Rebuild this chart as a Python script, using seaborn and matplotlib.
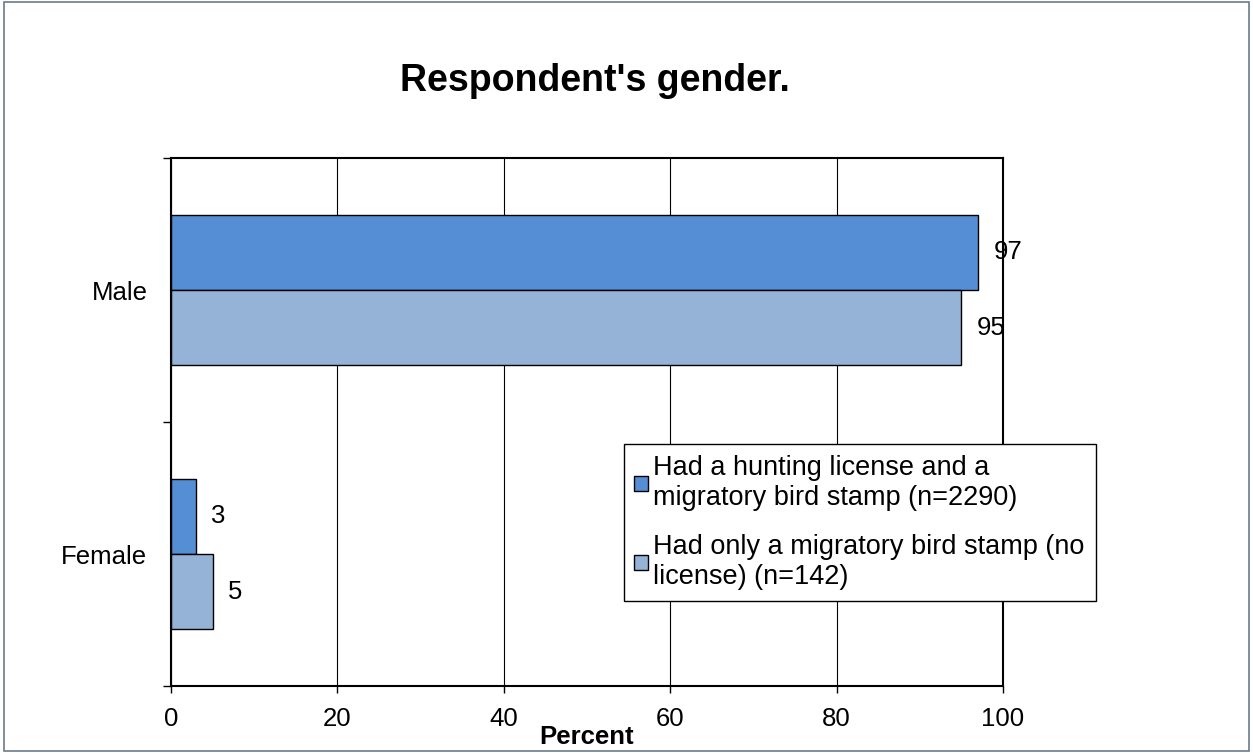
import seaborn as sns
import pandas as pd
import matplotlib.pyplot as plt
from matplotlib.patches import Rectangle

genders = ["Male", "Female"]
groups = ["Had a hunting license and a\nmigratory bird stamp (n=2290)",
          "Had only a migratory bird stamp (no\nlicense) (n=142)"]
licensed = [97, 3]
stamp_only = [95, 5]

df = pd.DataFrame({
    "gender": genders * 2,
    "group": [groups[0]] * 2 + [groups[1]] * 2,
    "pct": licensed + stamp_only,
})

sns.set_style("white")
plt.rcParams["font.family"] = ["Liberation Sans", "DejaVu Sans"]
plt.rcParams["text.color"] = "black"
plt.rcParams["axes.labelcolor"] = "black"
plt.rcParams["xtick.color"] = "black"
plt.rcParams["ytick.color"] = "black"

fs = 18.5

fig = plt.figure(figsize=(12.53, 7.53), dpi=100)
ax = fig.add_axes([0.1365, 0.089, 0.664, 0.701])

sns.barplot(data=df, y="gender", x="pct", hue="group", orient="h",
            palette=["#558ED5", "#95B3D7"], saturation=1,
            edgecolor="black", linewidth=1, width=0.57, ax=ax)

for c in ax.containers:
    ax.bar_label(c, padding=11, fontsize=fs)

ax.set_xlim(0, 100)
ax.set_ylim(1.5, -0.5)
ax.set_xticks([0, 20, 40, 60, 80, 100])
ax.tick_params(axis="x", labelsize=fs, direction="out", length=5, width=1, bottom=True, pad=10)
ax.set_yticks([0, 1])
ax.set_yticklabels(genders, fontsize=fs)
ax.tick_params(axis="y", which="major", length=0, pad=17)
ax.set_yticks([-0.5, 0.5, 1.5], minor=True)
ax.tick_params(axis="y", which="minor", length=6, width=1, left=True, direction="out")
ax.grid(axis="x", color="black", linewidth=0.8)
ax.set_axisbelow(True)
ax.set_xlabel("Percent", fontsize=fs, fontweight="bold", labelpad=-4)
ax.set_ylabel("")
for s in ax.spines.values():
    s.set_color("black")
    s.set_linewidth(1.5)

leg = ax.legend(loc="lower left", bbox_to_anchor=(0.544, 0.161), fontsize=19.5,
                frameon=True, fancybox=False, edgecolor="black", framealpha=1,
                handlelength=0.5, handleheight=0.5, handletextpad=0.2,
                borderpad=0.4, labelspacing=0.85, borderaxespad=0)
leg.get_frame().set_linewidth(1)

fig.text(0.475, 0.893, "Respondent's gender.", ha="center", va="center",
         fontsize=27, fontweight="bold")
fig.patches.append(Rectangle((0.003, 0.003), 0.994, 0.994, transform=fig.transFigure,
                             fill=False, edgecolor="#6b7b8c", linewidth=1.2))

fig.savefig("out.png", dpi=100)
